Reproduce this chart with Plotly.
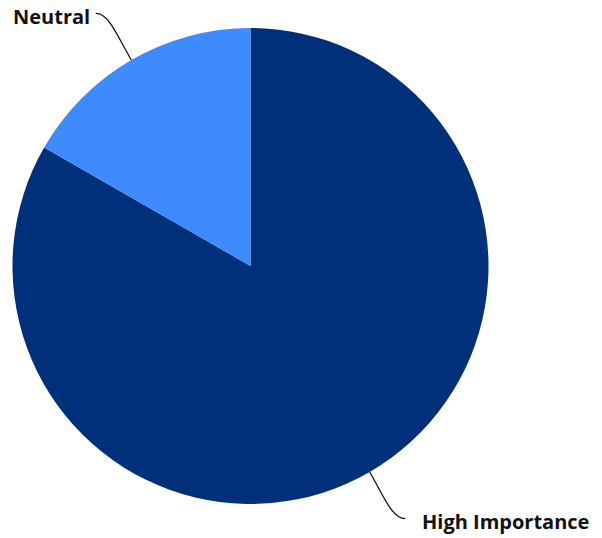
import math
import plotly.graph_objects as go

labels = ["High Importance", "Neutral"]
values = [83.3, 16.7]
colors = ["#00307a", "#3d8bfd"]

W, H = 602, 538
OFF = 0  # page body margin removed via post_script
M = dict(l=12, r=113, t=28, b=34)
pw, ph = W - M["l"] - M["r"], H - M["t"] - M["b"]
R = min(pw, ph) / 2
cx, cy = OFF + M["l"] + pw / 2, OFF + M["t"] + ph / 2

def px2paper(x, y):
    return (x - OFF - M["l"]) / pw, (OFF + H - M["b"] - y) / ph

fig = go.Figure(go.Pie(
    labels=labels, values=values, sort=False, direction="clockwise",
    rotation=0, marker=dict(colors=colors, line=dict(width=0)),
    textinfo="none", hoverinfo="label+percent", showlegend=False,
))

total = sum(values)
cum = 0
shapes, annos = [], []
for lab, v in zip(labels, values):
    mid = (cum + v / 2) / total * 2 * math.pi
    cum += v
    dx, dy = math.sin(mid), -math.cos(mid)  # clockwise from top, screen y down
    p0 = (cx + R * dx, cy + R * dy)
    p1 = (p0[0] + 30 * dx, p0[1] + 30 * dy)
    side = 1 if dx > 0 else -1
    ey = p0[1] + 54 * dy
    p3 = (p0[0] + 31 * dx + side * 20, ey)
    p2 = (p3[0] - side * 13, ey)
    pts = [px2paper(*p) for p in (p0, p1, p2, p3)]
    path = "M {:.4f},{:.4f} C {:.4f},{:.4f} {:.4f},{:.4f} {:.4f},{:.4f}".format(
        *[c for p in pts for c in p])
    shapes.append(dict(type="path", xref="paper", yref="paper", path=path,
                       line=dict(color="#111111", width=1.3)))
    gap = 15 if side > 0 else 4
    tx, ty = px2paper(p3[0] + side * gap, ey + 3)
    annos.append(dict(text="<b>%s</b>" % lab, x=tx, y=ty, xref="paper", yref="paper",
                      xanchor="left" if side > 0 else "right", yanchor="middle",
                      showarrow=False, font=dict(size=20, color="#111111",
                                                 family="Open Sans, sans-serif")))

fig.update_layout(width=W, height=H, margin=M, paper_bgcolor="white",
                  plot_bgcolor="white", shapes=shapes, annotations=annos)
fig.write_html("out.html", config={"displayModeBar": False},
               post_script="document.body.style.margin='0';document.body.style.overflow='hidden';")
